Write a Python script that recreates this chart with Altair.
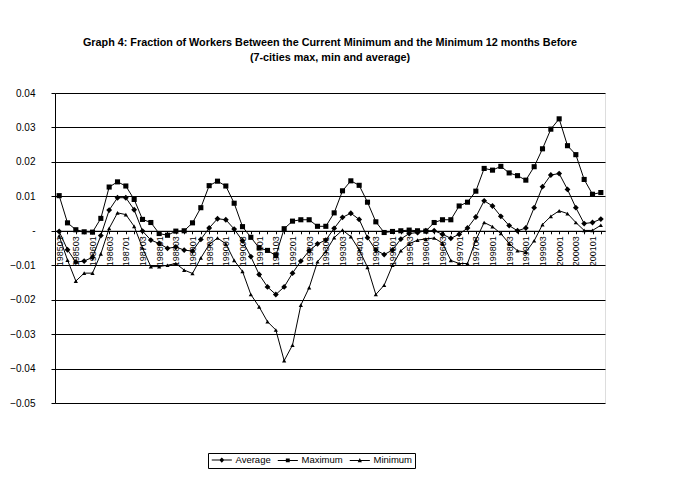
import altair as alt
import pandas as pd

# quarterly periods 1985Q1 .. 2001Q2 (labels as YYYY0Q)
periods = [f"{y}0{q}" for y in range(1985, 2002) for q in range(1, 5)][:66]

average = [-0.0002, -0.0055, -0.0091, -0.0088, -0.0077, -0.0014, 0.0060, 0.0096, 0.0096, 0.0061,
           -0.0001, -0.0027, -0.0037, -0.0051, -0.0047, -0.0056, -0.0059, -0.0025, 0.0008, 0.0035,
           0.0032, 0.0005, -0.0029, -0.0075, -0.0127, -0.0163, -0.0185, -0.0163, -0.0123, -0.0088,
           -0.0058, -0.0038, -0.0027, 0.0007, 0.0039, 0.0051, 0.0033, -0.0020, -0.0056, -0.0069,
           -0.0056, -0.0024, -0.0008, -0.0005, 0.0000, 0.0000, -0.0010, -0.0022, -0.0010, 0.0008,
           0.0040, 0.0087, 0.0072, 0.0042, 0.0015, 0.0000, 0.0008, 0.0067, 0.0128, 0.0162,
           0.0166, 0.0120, 0.0067, 0.0021, 0.0024, 0.0034]

maximum = [0.0102, 0.0023, 0.0003, -0.0003, -0.0004, 0.0036, 0.0127, 0.0142, 0.0130, 0.0091,
           0.0033, 0.0024, -0.0008, -0.0013, -0.0001, 0.0000, 0.0023, 0.0067, 0.0131, 0.0144,
           0.0130, 0.0080, 0.0012, -0.0019, -0.0050, -0.0057, -0.0072, 0.0006, 0.0028, 0.0032,
           0.0032, 0.0013, 0.0013, 0.0052, 0.0116, 0.0145, 0.0132, 0.0083, 0.0026, -0.0005,
           -0.0002, 0.0000, 0.0002, 0.0000, -0.0001, 0.0024, 0.0032, 0.0032, 0.0072, 0.0083,
           0.0115, 0.0181, 0.0176, 0.0187, 0.0168, 0.0160, 0.0147, 0.0186, 0.0238, 0.0295,
           0.0325, 0.0247, 0.0221, 0.0149, 0.0106, 0.0111]

minimum = [-0.0015, -0.0085, -0.0146, -0.0123, -0.0123, -0.0067, 0.0007, 0.0052, 0.0047, 0.0013,
           -0.0050, -0.0104, -0.0104, -0.0100, -0.0095, -0.0114, -0.0124, -0.0079, -0.0040, -0.0021,
           -0.0038, -0.0086, -0.0118, -0.0185, -0.0221, -0.0264, -0.0288, -0.0377, -0.0332, -0.0216,
           -0.0165, -0.0090, -0.0060, -0.0020, 0.0002, -0.0017, -0.0055, -0.0106, -0.0185, -0.0158,
           -0.0100, -0.0058, -0.0038, -0.0027, -0.0024, -0.0021, -0.0036, -0.0086, -0.0095, -0.0095,
           -0.0027, 0.0024, 0.0012, -0.0008, -0.0037, -0.0058, -0.0062, -0.0029, 0.0018, 0.0042,
           0.0058, 0.0050, 0.0024, 0.0001, 0.0001, 0.0016]

series_names = ["Average", "Maximum", "Minimum"]
y_ticks = [-0.05, -0.04, -0.03, -0.02, -0.01, 0.0, 0.01, 0.02, 0.03, 0.04]

title_lines = ["Graph 4: Fraction of Workers Between the Current Minimum and the Minimum 12 months Before",
               "(7-cities max, min and average)"]

rows = []
for name, vals in zip(series_names, [average, maximum, minimum]):
    for p, v in zip(periods, vals):
        rows.append({"period": p, "series": name, "value": v})
df = pd.DataFrame(rows)

FONT = "Liberation Sans"
W, H = 550, 310
zero_offset = H * 0.04 / 0.09 - H

x_enc = alt.X(
    "period:N", sort=periods,
    scale=alt.Scale(type="point", padding=0.5),
    axis=alt.Axis(
        title=None, labelAngle=-90, labelFontSize=9, labelFont=FONT, labelColor="black",
        labelExpr="(substring(datum.label, 5, 6) == '1' || substring(datum.label, 5, 6) == '3') ? datum.label : ''",
        offset=zero_offset, domainColor="black", domainWidth=1, tickColor="black", tickSize=3,
        labelPadding=2, grid=False, labelOverlap=False, zindex=1,
    ),
)
y_enc = alt.Y(
    "value:Q",
    scale=alt.Scale(domain=[-0.05, 0.04], nice=False, zero=False),
    axis=alt.Axis(
        title=None, values=y_ticks,
        labelExpr="datum.value == 0 ? '-' : format(datum.value, '.2f')",
        grid=True, gridColor="black", gridWidth=1, gridOpacity=1,
        domainColor="black", tickColor="black", tickSize=4, labelPadding=16,
        labelFontSize=10, labelFont=FONT, labelColor="black",
    ),
)

base = alt.Chart(df).encode(x=x_enc, y=y_enc)

lines = base.mark_line(color="black", strokeWidth=1).encode(detail="series:N")

points = base.mark_point(filled=True, opacity=1, color="black").encode(
    shape=alt.Shape("series:N", scale=alt.Scale(domain=series_names,
                                                 range=["diamond", "square", "triangle-up"]),
                    legend=None),
    size=alt.Size("series:N", scale=alt.Scale(domain=series_names, range=[34, 18, 16]), legend=None),
)

legend_paths = [
    "M-1,-0.17H5.7V0.17H-1Z M1.5,0L2.35,-0.85L3.2,0L2.35,0.85Z",
    "M-1,-0.17H5.7V0.17H-1Z M1.7,-0.65H3V0.65H1.7Z",
    "M-1,-0.17H5.7V0.17H-1Z M2.35,-0.8L3.05,0.6H1.65Z",
]

legend_layer = base.mark_point(filled=True, opacity=1, color="black", size=36).encode(
    shape=alt.Shape("series:N", scale=alt.Scale(domain=series_names, range=legend_paths),
                    legend=alt.Legend(
                        title=None, orient="none", legendX=153, legendY=360,
                        direction="horizontal", strokeColor="black", fillColor="white",
                        padding=2, labelFont=FONT, labelFontSize=9.5, labelColor="black",
                        symbolSize=36, labelOffset=16, columnPadding=3,
                    )),
).transform_filter("datum.value > 1")

chart = alt.layer(lines, points, legend_layer).resolve_scale(
    shape="independent", size="independent"
).properties(
    width=W, height=H,
    title=alt.TitleParams(text=title_lines, fontSize=10.8, font=FONT, fontWeight="bold",
                          anchor="middle", offset=25, lineHeight=15, color="black"),
    autosize=alt.AutoSizeParams(type="none"),
    padding={"left": 47, "top": 85, "right": 76, "bottom": 80},
).configure_view(stroke="#808080", strokeWidth=1).configure(background="white")

chart.save("out.html", embed_options={"renderer": "svg", "actions": False})
